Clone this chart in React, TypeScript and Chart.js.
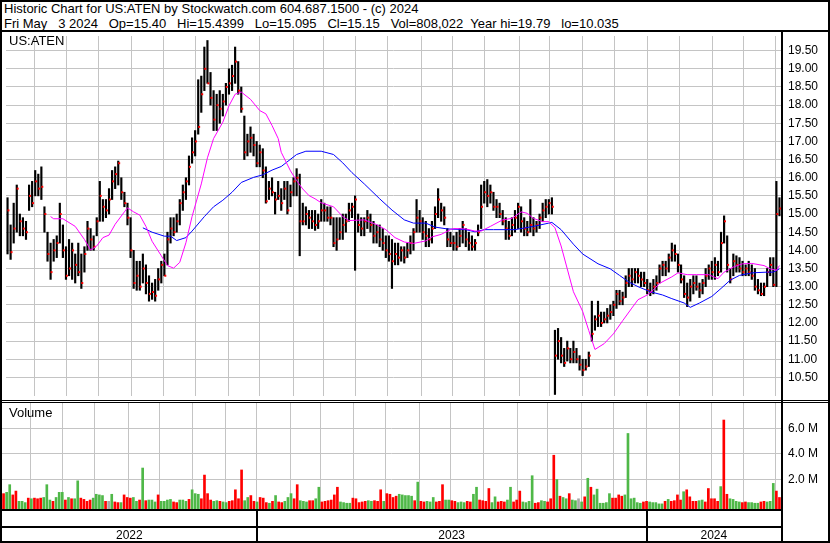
import React, { useEffect, useRef } from 'react';
import { Chart, registerables } from 'chart.js';

Chart.register(...registerables);

// ---- Data (one bar = two trading days, May 2022 .. May 3 2024) ----
const highs = [
  15.45, 14.7, 15.3, 15.8, 15.0, 14.9, 14.8, 15.8, 15.9, 16.2,
  16.1, 16.3, 15.2, 14.5, 14.2, 14.3, 14.4, 15.3, 14.7, 14.1,
  14.3, 14.2, 13.9, 14.2, 13.9, 14.1, 14.8, 14.6, 14.4, 14.9,
  15.9, 15.4, 15.4, 15.7, 16.2, 16.3, 16.46, 16.0, 15.6, 15.3,
  14.9, 14.0, 13.7, 13.7, 13.9, 13.6, 13.3, 13.1, 13.2, 13.5,
  13.7, 13.9, 14.5, 14.9, 14.9, 15.0, 15.4, 15.8, 16.0, 16.6,
  17.1, 17.3, 18.7, 18.8, 19.6, 19.78, 18.9, 18.4, 18.3, 18.4,
  18.3, 18.6, 19.0, 19.1, 19.6, 19.2, 18.5, 17.7, 17.2, 17.4,
  17.2, 17.0, 16.9, 16.8, 16.3, 15.9, 16.0, 15.6, 15.9, 15.7,
  15.9, 15.9, 15.8, 16.0, 16.25, 16.1, 15.3, 15.2, 15.1, 15.1,
  15.1, 15.0, 15.4, 15.3, 15.2, 15.2, 14.9, 14.9, 14.9, 15.0,
  15.0, 15.3, 15.3, 15.5, 15.0, 14.9, 14.9, 15.1, 15.0, 14.8,
  14.7, 14.7, 14.6, 14.4, 14.4, 14.3, 14.2, 14.2, 14.1, 14.1,
  14.2, 14.4, 14.6, 15.4, 15.1, 14.9, 14.8, 14.6, 14.8, 15.2,
  15.7, 15.3, 15.2, 14.6, 14.5, 14.4, 14.5, 14.6, 14.8, 14.6,
  14.5, 14.4, 14.3, 14.7, 15.8, 15.9, 15.95, 15.8, 15.6, 15.4,
  15.3, 15.1, 14.9, 14.8, 14.9, 15.1, 15.3, 15.2, 14.9, 14.8,
  15.4, 14.9, 14.8, 15.0, 15.3, 15.4, 15.4, 15.45, 11.8, 11.85,
  11.6, 11.3, 11.5, 11.3, 11.5, 11.3, 11.1, 11.0, 11.0, 11.2,
  12.6, 12.2, 12.6, 12.3, 12.3, 12.4, 12.5, 12.6, 12.9, 12.9,
  12.85, 13.3, 13.5, 13.5, 13.5, 13.5, 13.4, 13.4, 13.2, 13.1,
  13.2, 13.3, 13.6, 13.7, 13.7, 13.9, 14.2, 14.15, 13.9, 13.6,
  13.3, 13.1, 13.2, 13.3, 13.3, 13.1, 13.2, 13.5, 13.6, 13.7,
  13.8, 13.7, 14.5, 14.95, 14.4, 13.5, 13.9, 13.85, 13.8, 13.7,
  13.6, 13.7, 13.6, 13.5, 13.2, 13.1, 13.1, 13.5, 13.8, 13.8,
  15.9, 15.45,
];

const lows = [
  13.9, 13.75, 14.2, 14.5, 14.4, 14.4, 14.3, 15.1, 15.2, 15.5,
  15.5, 15.4, 14.5, 13.7, 13.2, 13.7, 13.8, 14.2, 13.8, 13.2,
  13.3, 13.2, 13.1, 13.3, 12.95, 13.4, 14.0, 14.0, 14.0, 14.4,
  14.8, 14.8, 14.9, 15.0, 15.4, 15.7, 15.8, 15.4, 15.2, 14.7,
  13.8, 12.95, 12.9, 12.9, 13.1, 12.8, 12.6, 12.65, 12.6, 12.9,
  13.1, 13.3, 13.6, 14.2, 14.4, 14.5, 14.7, 15.1, 15.4, 15.8,
  16.4, 16.6, 17.2, 17.8, 18.4, 18.6, 18.0, 17.3, 17.3, 17.5,
  17.7, 18.0, 18.3, 18.4, 18.6, 18.3, 17.8, 16.5, 16.6, 16.7,
  16.6, 16.3, 16.3, 16.0, 15.3, 15.4, 15.5, 15.0, 15.4, 15.1,
  15.4, 15.0, 15.2, 15.5, 15.5, 13.85, 14.7, 14.7, 14.6, 14.6,
  14.55, 14.6, 14.8, 14.8, 14.8, 14.7, 14.1, 14.0, 14.3, 14.3,
  14.5, 14.8, 14.9, 13.45, 14.5, 14.4, 14.4, 14.6, 14.5, 14.2,
  14.2, 14.1, 14.0, 13.8, 13.7, 12.95, 13.6, 13.6, 13.7, 13.65,
  13.8, 13.9, 14.0, 14.5, 14.5, 14.3, 14.1, 14.1, 14.2, 14.6,
  14.9, 14.8, 14.7, 14.1, 14.1, 14.0, 14.0, 14.1, 14.2, 14.1,
  14.0, 14.0, 14.0, 14.4, 14.6, 15.3, 15.2, 15.3, 15.1, 14.9,
  14.9, 14.7, 14.3, 14.3, 14.4, 14.5, 14.6, 14.5, 14.4, 14.4,
  14.5, 14.4, 14.5, 14.6, 14.8, 14.9, 15.0, 15.0, 10.03, 11.0,
  10.9, 10.8, 10.95, 10.9, 10.9, 10.9, 10.7, 10.55, 10.7, 10.8,
  11.5, 11.8, 11.9, 11.9, 12.0, 12.0, 12.1, 12.2, 12.4, 12.5,
  12.5, 12.7, 13.0, 13.0, 13.1, 13.1, 13.0, 13.0, 12.8, 12.75,
  12.8, 12.9, 13.1, 13.3, 13.3, 13.4, 13.7, 13.7, 13.4, 13.1,
  12.7, 12.45, 12.6, 12.8, 12.9, 12.7, 12.8, 13.0, 13.2, 13.2,
  13.2, 13.3, 13.4, 14.2, 13.4, 13.1, 13.3, 13.4, 13.4, 13.3,
  13.3, 13.3, 13.2, 12.9, 12.8, 12.75, 12.75, 13.0, 13.3, 13.0,
  13.0, 14.95,
];

const closes = [
  15.1, 13.95, 14.6, 15.7, 14.8, 14.6, 14.5, 15.5, 15.3, 15.9,
  15.7, 15.75, 15.0, 13.9, 13.4, 14.0, 14.2, 15.0, 14.0, 13.3,
  13.5, 14.0, 13.6, 13.4, 13.1, 13.9, 14.6, 14.3, 14.1, 14.8,
  15.5, 15.2, 15.1, 15.4, 15.9, 16.1, 16.4, 15.6, 15.3, 14.9,
  14.0, 13.1, 13.3, 13.0, 13.5, 13.1, 12.8, 12.85, 12.75, 13.2,
  13.6, 13.3, 14.3, 14.6, 14.5, 14.8, 15.3, 15.6, 15.9, 16.3,
  16.7, 17.0, 17.4, 18.3, 19.0, 18.6, 18.2, 17.6, 18.0, 17.9,
  18.1, 18.5, 18.6, 18.8, 19.2, 18.4, 17.9, 16.7, 17.0, 17.1,
  16.9, 16.4, 16.7, 16.2, 15.35, 15.7, 15.6, 15.4, 15.5, 15.3,
  15.7, 15.1, 15.6, 15.9, 16.0, 14.8, 14.8, 15.0, 14.9, 14.8,
  14.7, 14.8, 15.1, 15.1, 14.9, 14.9, 14.2, 14.3, 14.5, 14.7,
  14.8, 15.1, 15.2, 15.4, 14.7, 14.6, 14.8, 14.9, 14.7, 14.4,
  14.5, 14.3, 14.2, 14.0, 13.9, 13.7, 13.9, 13.8, 14.0, 13.8,
  14.0, 14.2, 14.5, 14.9, 14.8, 14.5, 14.4, 14.3, 14.6, 15.0,
  15.4, 15.1, 14.9, 14.3, 14.2, 14.2, 14.1, 14.4, 14.7, 14.3,
  14.2, 14.1, 14.2, 14.5, 15.2, 15.6, 15.5, 15.6, 15.2, 15.2,
  15.0, 14.8, 14.6, 14.4, 14.7, 14.9, 15.2, 14.8, 14.6, 14.5,
  14.7, 14.6, 14.7, 14.9, 15.1, 15.2, 15.3, 15.2, 11.1, 11.5,
  11.1, 10.9, 11.3, 11.0, 11.2, 11.0, 10.85, 10.7, 10.8, 11.1,
  11.7, 12.1, 12.2, 12.0, 12.1, 12.2, 12.3, 12.5, 12.8, 12.6,
  12.7, 13.1, 13.3, 13.2, 13.4, 13.3, 13.2, 13.1, 12.9, 12.85,
  13.0, 13.1, 13.5, 13.6, 13.5, 13.8, 14.0, 13.9, 13.6, 13.2,
  12.8, 12.7, 13.0, 13.1, 13.0, 12.9, 13.1, 13.3, 13.5, 13.4,
  13.6, 13.4, 14.2, 14.8, 13.6, 13.2, 13.7, 13.6, 13.5, 13.4,
  13.5, 13.4, 13.3, 13.0, 12.9, 12.8, 13.0, 13.4, 13.6, 13.05,
  15.0, 15.15,
];

// volume in millions of shares
const volumeM = [
  0.9, 1.0, 1.6, 0.8, 1.1, 0.3, 0.3, 0.2, 0.55, 0.5,
  0.55, 0.5, 0.55, 0.6, 1.6, 0.4, 0.3, 0.6, 1.0, 1.0,
  0.4, 0.6, 0.5, 0.5, 1.9, 0.55, 0.45, 0.3, 0.4, 0.55,
  0.85, 0.8, 0.75, 0.3, 0.3, 0.85, 0.25, 0.2, 0.2, 0.8,
  0.6, 0.55, 0.6, 0.3, 0.4, 2.9, 0.35, 0.4, 0.4, 0.25,
  0.8, 0.3, 0.3, 0.4, 0.45, 0.25, 0.2, 0.4, 0.4, 0.3,
  0.45, 1.2, 0.9, 0.85, 0.5, 2.35, 0.9, 0.4, 0.3, 0.35,
  0.3, 0.25, 0.2, 0.3, 0.35, 1.2, 0.5, 2.75, 0.35, 0.6,
  0.75, 0.3, 0.25, 0.6, 0.55, 0.2, 0.15, 0.3, 0.75, 0.25,
  0.2, 0.3, 0.6, 0.9, 0.5, 1.6, 0.35, 0.3, 0.25, 0.35,
  0.35, 0.5, 1.4, 0.25, 0.3, 0.35, 0.4, 0.8, 1.4, 0.25,
  0.2, 0.15, 0.15, 0.55, 0.5, 0.2, 0.25, 0.3, 0.35, 0.3,
  0.35, 0.3, 1.2, 0.3, 0.9, 0.85, 0.6, 0.7, 0.85, 0.8,
  0.75, 0.75, 0.7, 0.35, 1.8, 0.3, 0.25, 0.3, 0.25, 0.6,
  0.25, 0.3, 1.6, 0.4, 0.4, 0.35, 0.3, 0.2, 0.25, 0.2,
  0.3, 0.25, 0.85, 1.4, 0.4, 0.35, 0.3, 1.3, 0.2, 0.65,
  0.25, 0.3, 0.25, 0.4, 1.4, 0.25, 0.4, 1.1, 0.25, 0.2,
  0.3, 2.3, 0.15, 0.2, 0.35, 0.3, 0.25, 0.5, 3.9, 2.0,
  0.7, 0.6, 0.5, 0.9, 0.4, 0.35, 0.5, 0.25, 0.65, 2.1,
  1.4, 0.8, 1.25, 0.15, 0.15, 0.2, 0.9, 0.55, 0.55, 0.8,
  0.7, 0.8, 5.6, 0.5, 0.55, 0.2, 0.15, 0.25, 0.3, 0.25,
  0.2, 0.2, 0.1, 0.1, 0.3, 0.45, 0.3, 0.35, 0.8, 0.4,
  1.05, 1.2, 0.65, 0.3, 0.3, 0.35, 0.4, 0.25, 1.3, 0.5,
  0.5, 0.3, 1.45, 6.65, 0.85, 0.5, 0.45, 0.3, 0.25, 0.2,
  0.25, 0.2, 0.2, 0.15, 0.15, 0.25, 0.3, 0.25, 0.3, 1.7,
  1.1, 0.6,
];

// g = up, r = down, n = unchanged
const volumeDir = [
  'rggrrgggrg', 'rrrgggrggg', 'rgrggrrrrg', 'gggrngrrgr', 'rrggrgrggg',
  'rggggrrggg', 'rgggrrrrgg', 'rggrrrrrgg', 'rrgrrrgrgr', 'rgggrrgggr',
  'rggrrrrrrg', 'gggrrrrrgg', 'rrrgrrrrgg', 'gggrgrrggg', 'rrrggrrggg',
  'rrggrrrrgg', 'rrrggrrrgg', 'ggrrggrrrg', 'rggrggngrg', 'rggggggrrr',
  'rggggggrrg', 'ggggrgrrrr', 'grrrrggrrr', 'rrgrrggggr', 'rggggrrggg',
  'rr',
].join('');

// short moving average (magenta), read at bar positions
const maShortBar = [14, 15, 18, 22, 25, 27, 29, 31, 33, 35, 38, 39, 41, 43, 45, 47, 50, 52, 54, 56, 58, 60, 63, 65, 67, 70, 72, 74, 76, 79, 82, 84, 86, 88, 89, 92, 94, 96, 98, 100, 102, 106, 109, 111, 116, 120, 123, 126, 129, 132, 136, 138, 141, 144, 145, 149, 152, 154, 157, 161, 164, 167, 169, 171, 174, 176, 178, 180, 182, 184, 187, 189, 191, 194, 197, 200, 203, 205, 208, 210, 212, 216, 218, 221, 224, 228, 231, 233, 236, 239, 242, 246, 248, 250, 251];
const maShortVal = [14.93, 14.87, 14.87, 14.66, 14.3, 14.01, 14.12, 14.35, 14.42, 14.72, 15.06, 15.17, 15.06, 14.97, 14.66, 14.25, 13.85, 13.58, 13.51, 13.67, 14.21, 14.93, 15.83, 16.55, 17.08, 17.53, 17.98, 18.3, 18.36, 18.16, 17.85, 17.76, 17.44, 17.08, 16.7, 16.19, 15.92, 15.69, 15.51, 15.42, 15.31, 15.2, 14.93, 14.82, 14.84, 14.71, 14.57, 14.35, 14.23, 14.19, 14.26, 14.37, 14.44, 14.57, 14.6, 14.59, 14.53, 14.53, 14.66, 14.84, 14.88, 15.06, 15.02, 14.88, 14.79, 14.79, 14.62, 14.12, 13.49, 12.86, 12.32, 11.79, 11.27, 11.43, 11.7, 12.06, 12.41, 12.64, 12.77, 12.91, 13.09, 13.27, 13.38, 13.33, 13.33, 13.33, 13.22, 13.4, 13.54, 13.63, 13.64, 13.58, 13.49, 13.45, 13.58];

// long moving average (blue)
const maLongBar = [44, 47, 51, 53, 55, 58, 60, 64, 67, 70, 73, 76, 80, 83, 86, 89, 94, 97, 102, 106, 109, 112, 116, 121, 125, 129, 132, 136, 139, 143, 149, 152, 155, 158, 165, 171, 176, 177, 180, 184, 187, 192, 196, 199, 202, 205, 209, 213, 216, 220, 222, 225, 229, 232, 235, 238, 242, 247, 249, 251];
const maLongVal = [14.62, 14.5, 14.39, 14.39, 14.27, 14.35, 14.53, 14.93, 15.2, 15.38, 15.6, 15.87, 16.01, 16.08, 16.21, 16.31, 16.64, 16.73, 16.73, 16.64, 16.41, 16.14, 15.83, 15.42, 15.11, 14.84, 14.75, 14.75, 14.64, 14.59, 14.57, 14.51, 14.57, 14.57, 14.57, 14.66, 14.75, 14.77, 14.57, 14.17, 13.9, 13.63, 13.49, 13.31, 13.13, 13.0, 12.86, 12.77, 12.67, 12.55, 12.43, 12.55, 12.73, 12.95, 13.18, 13.31, 13.38, 13.4, 13.4, 13.49];

const priceTicks = [10.5, 11, 11.5, 12, 12.5, 13, 13.5, 14, 14.5, 15, 15.5, 16, 16.5, 17, 17.5, 18, 18.5, 19, 19.5];
const volumeTicks = [2, 4, 6];
// month boundaries, in bar units (Jun 2022 .. May 2024)
const monthStartBar = [8.78, 19.14, 29.58, 40.36, 50.61, 61.19, 71.73, 81.89, 92.89, 102.6, 113.14, 123.4, 134.49, 144.65, 155.2, 166.32, 176.12, 187.03, 197.47, 208.05, 218.6, 229.08, 239.3, 249.78];
const yearStartBar = [81.89, 208.05];
const yearLabels = ['2022', '2023', '2024'];

const titleLine1 = 'Historic Chart for US:ATEN by Stockwatch.com 604.687.1500 - (c) 2024';
const titleLine2 = 'Fri May   3 2024   Op=15.40   Hi=15.4399   Lo=15.095   Cl=15.15   Vol=808,022  Year hi=19.79   lo=10.035';

// ---- Styling ----
const FONT = '"Liberation Sans", Arial, Helvetica, sans-serif';
const GRID = '#c4c4c4';
const GREEN = '#4fb848';
const RED = '#ff0000';
const GRAY = '#a8a8a8';
const N_BARS = highs.length;
const PRICE_MIN = 9.988;
const PRICE_MAX = 19.904;
const VOL_MIN = -0.3;
const VOL_MAX = 7.98;
const AXIS_W = 47;

const xScale = () => ({
  type: 'linear' as const,
  min: -0.5,
  max: N_BARS - 0.5,
  offset: false,
  grid: { color: GRID, lineWidth: 1, drawTicks: false, offset: false },
  border: { display: false },
  ticks: { display: false },
  afterBuildTicks: (s: any) => { s.ticks = monthStartBar.map((v) => ({ value: v })); },
  afterFit: (s: any) => { s.height = 0; s.paddingLeft = 0; s.paddingRight = 0; s.paddingTop = 0; s.paddingBottom = 0; },
});

const yScale = (min: number, max: number, ticks: number[], fmt: (v: number) => string) => ({
  type: 'linear' as const,
  position: 'right' as const,
  min,
  max,
  grid: { color: GRID, lineWidth: 1, drawTicks: false },
  border: { display: false },
  ticks: {
    color: '#000',
    padding: 7,
    autoSkip: false,
    font: { family: FONT, size: 12 },
    callback: (v: any) => fmt(Number(v)),
  },
  afterBuildTicks: (s: any) => { s.ticks = ticks.map((v) => ({ value: v })); },
  afterFit: (s: any) => { s.width = AXIS_W; s.paddingTop = 0; s.paddingBottom = 0; s.paddingLeft = 0; s.paddingRight = 0; },
});

const baseOptions = {
  animation: false as const,
  responsive: false,
  maintainAspectRatio: false,
  devicePixelRatio: 1,
  events: [] as any[],
  plugins: { legend: { display: false }, tooltip: { enabled: false } },
};

const yearRowPlugin = {
  id: 'yearRow',
  afterDraw(chart: any) {
    const { ctx, chartArea, scales } = chart;
    const top = chartArea.bottom;
    const right = chartArea.right;
    ctx.save();
    ctx.fillStyle = '#000';
    ctx.fillRect(0, top, right, 2);
    ctx.fillRect(0, top + 17, right, 2);
    const px = yearStartBar.map((v) => scales.x.getPixelForValue(v));
    px.forEach((p) => ctx.fillRect(Math.round(p) - 1, top, 2, chart.height - top));
    const bounds = [chartArea.left, ...px, right];
    ctx.font = `12px ${FONT}`;
    ctx.textAlign = 'center';
    ctx.textBaseline = 'alphabetic';
    yearLabels.forEach((lab, i) => ctx.fillText(lab, (bounds[i] + bounds[i + 1]) / 2, top + 30));
    ctx.restore();
  },
};

export default function App() {
  const priceRef = useRef<HTMLCanvasElement>(null);
  const volRef = useRef<HTMLCanvasElement>(null);

  useEffect(() => {
    document.body.style.margin = '0';
    if (!priceRef.current || !volRef.current) return;

    const priceChart = new Chart(priceRef.current, {
      type: 'bar',
      data: {
        datasets: [
          {
            type: 'line',
            data: maShortBar.map((b, i) => ({ x: b, y: maShortVal[i] })),
            borderColor: '#ff00ff',
            borderWidth: 1,
            pointRadius: 0,
            tension: 0,
            order: 0,
          } as any,
          {
            type: 'line',
            data: maLongBar.map((b, i) => ({ x: b, y: maLongVal[i] })),
            borderColor: '#0000ff',
            borderWidth: 1,
            pointRadius: 0,
            tension: 0,
            order: 0,
          },
          {
            type: 'line',
            data: closes.map((c, i) => ({ x: i + 0.3, y: c })),
            showLine: false,
            pointStyle: 'rect',
            pointRadius: 1.4,
            pointBorderWidth: 0,
            pointBackgroundColor: RED,
            borderColor: RED,
            order: 1,
          },
          {
            type: 'bar',
            data: highs.map((h, i) => ({ x: i, y: [lows[i], h] })),
            backgroundColor: '#000',
            barThickness: 1.5,
            grouped: false,
            order: 2,
          },
        ],
      } as any,
      options: {
        ...baseOptions,
        layout: { padding: 0 },
        scales: {
          x: xScale(),
          y: yScale(PRICE_MIN, PRICE_MAX, priceTicks, (v) => v.toFixed(2)),
        },
      } as any,
    });

    const volChart = new Chart(volRef.current, {
      type: 'bar',
      data: {
        datasets: [
          {
            data: volumeM.map((v, i) => ({ x: i, y: v })),
            backgroundColor: volumeDir.split('').map((d) => (d === 'g' ? GREEN : d === 'r' ? RED : GRAY)),
            barThickness: 2,
            grouped: false,
            base: VOL_MIN,
          },
        ],
      } as any,
      options: {
        ...baseOptions,
        layout: { padding: { left: 0, right: 0, top: 0, bottom: 32 } },
        scales: {
          x: xScale(),
          y: yScale(VOL_MIN, VOL_MAX, volumeTicks, (v) => `${v.toFixed(1)} M`),
        },
      } as any,
      plugins: [yearRowPlugin],
    });

    return () => {
      priceChart.destroy();
      volChart.destroy();
    };
  }, []);

  const abs = (s: React.CSSProperties): React.CSSProperties => ({ position: 'absolute', ...s });
  const txt: React.CSSProperties = { fontFamily: FONT, fontSize: '13px', color: '#000', whiteSpace: 'pre', lineHeight: '15px' };

  return (
    <div style={abs({ left: 0, top: 0, width: 830, height: 543, background: '#fff', overflow: 'hidden' })}>
      <div style={abs({ ...txt, left: 4, top: 1 })}>
        <div>{titleLine1}</div>
        <div>{titleLine2}</div>
      </div>
      <canvas ref={priceRef} width={826} height={368} style={abs({ left: 2, top: 32, width: 826, height: 368 })} />
      <canvas ref={volRef} width={826} height={138} style={abs({ left: 2, top: 403, width: 826, height: 138 })} />
      <div style={abs({ ...txt, left: 9, top: 33, lineHeight: '16px' })}>US:ATEN</div>
      <div style={abs({ ...txt, left: 9, top: 405, lineHeight: '16px' })}>Volume</div>
      <div style={abs({ left: 0, top: 30, width: 830, height: 2, background: '#000' })} />
      <div style={abs({ left: 0, top: 400, width: 830, height: 1, background: '#000' })} />
      <div style={abs({ left: 0, top: 402, width: 830, height: 1, background: '#000' })} />
      <div style={abs({ left: 781, top: 32, width: 2, height: 509, background: '#000' })} />
      <div style={abs({ left: 0, top: 0, width: 830, height: 543, border: '2px solid #000', boxSizing: 'border-box', pointerEvents: 'none' })} />
    </div>
  );
}
